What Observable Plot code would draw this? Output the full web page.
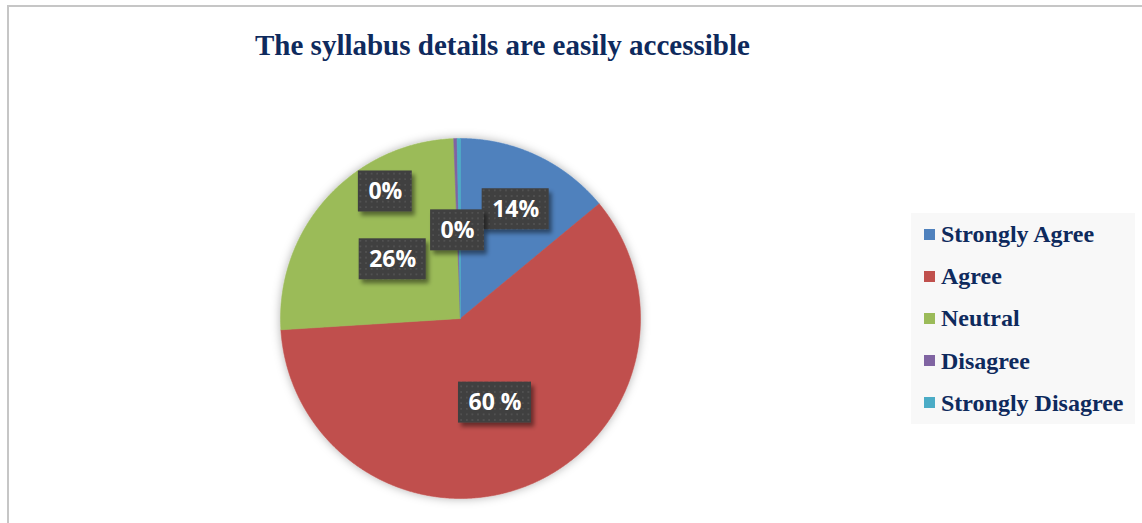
<!DOCTYPE html>
<html>
<head>
<meta charset="utf-8">
<script src="https://cdn.jsdelivr.net/npm/d3@7"></script>
<script src="https://cdn.jsdelivr.net/npm/@observablehq/plot@0.6"></script>
<style>
  html, body { margin: 0; padding: 0; background: #fff; }
  #page { position: relative; width: 1142px; height: 523px; overflow: hidden; background: #fff; }
  #frame { position: absolute; left: 7px; top: 5px; width: 1200px; height: 600px;
           border-left: 2px solid #c6c6c6; border-top: 2px solid #c6c6c6; }
  #title { position: absolute; left: 255px; top: 31px; text-align: left; white-space: nowrap;
           font-family: "Liberation Serif", "Times New Roman", serif; font-weight: bold; font-size: 29px;
           line-height: 29px; color: #0e2a5d; }
  #pie { position: absolute; left: 239.5px; top: 98px; }
  #legend { position: absolute; left: 911px; top: 213px; width: 224px; height: 211px; background: #f8f8f8; }
  .row { display: flex; align-items: center; height: 42.2px; padding-left: 13px; }
  .sw { width: 11px; height: 11px; margin-right: 6px; flex: none; }
  .lt { font-family: "Liberation Serif", "Times New Roman", serif; font-weight: bold; font-size: 24px;
        line-height: 24px; color: #0e2a5d; white-space: nowrap; }
</style>
</head>
<body>
<div id="page">
  <div id="frame"></div>
  <div id="title"></div>
  <div id="pie"></div>
  <div id="legend"></div>
</div>
<script>
// ---- data ----
const categories = ["Strongly Agree", "Agree", "Neutral", "Disagree", "Strongly Disagree"];
const values = [14, 60, 25.4, 0.3, 0.3];
const labels = ["14%", "60 %", "26%", "0%", "0%"];
const colors = ["#4f81bd", "#c0504d", "#9bbb59", "#8064a2", "#4bacc6"];
// label placement (fraction of radius, angular shift in degrees from slice middle)
const labelRadius = [0.68, 0.505, 0.5, 0.82, 0.49];
const labelShift = [1.6, -0.7, -1, -29, -1.4];

const title = "The syllabus details are easily accessible";
document.getElementById("title").textContent = title;

// ---- geometry ----
const R = 180;            // pixel radius
const S = 440;            // svg size
const half = (S / 2) / R; // data half-extent
const total = d3.sum(values);
const rad = Math.PI / 180;

let acc = 0;
const slices = categories.map((c, i) => {
  const a0 = acc / total * 360;
  acc += values[i];
  const a1 = acc / total * 360;
  return {category: c, a0, a1, mid: (a0 + a1) / 2, label: labels[i], i};
});

const pts = [];
for (const s of slices) {
  pts.push({category: s.category, x: 0, y: 0});
  const n = Math.max(2, Math.ceil((s.a1 - s.a0) / 0.25));
  for (let k = 0; k <= n; k++) {
    const a = (s.a0 + (s.a1 - s.a0) * k / n) * rad;
    pts.push({category: s.category, x: Math.sin(a), y: Math.cos(a)});
  }
  pts.push({category: s.category, x: 0, y: 0});
}

const fs = 23;
const ctx = document.createElement("canvas").getContext("2d");
ctx.font = `bold ${fs}px 'Open Sans'`;
const boxH = 41;
const labelData = slices.map(s => {
  const a = (s.mid + labelShift[s.i]) * rad;
  const r = labelRadius[s.i];
  const cx = r * Math.sin(a), cy = r * Math.cos(a);
  const w = ctx.measureText(s.label).width + 20;
  return {label: s.label, cx, cy,
    x1: cx - w / 2 / R, x2: cx + w / 2 / R,
    y1: cy - boxH / 2 / R, y2: cy + boxH / 2 / R};
});

const chart = Plot.plot({
  width: S, height: S,
  margin: 0,
  x: {domain: [-half, half], axis: null},
  y: {domain: [-half, half], axis: null},
  color: {domain: categories, range: colors},
  marks: [
    Plot.line(pts, {x: "x", y: "y", z: "category", fill: "category", stroke: "category", strokeWidth: 0.6, curve: "linear"}),
    Plot.rect(labelData, {x1: "x1", x2: "x2", y1: "y1", y2: "y2", fill: "url(#dots)"}),
    Plot.text(labelData, {x: "cx", y: "cy", text: "label", fill: "white", fontSize: fs, fontWeight: "bold",
      fontFamily: "'Open Sans', sans-serif"})
  ]
});

// defs: dotted pattern + shadows
const defs = d3.select(chart).insert("defs", ":first-child");
const pat = defs.append("pattern").attr("id", "dots").attr("patternUnits", "userSpaceOnUse")
  .attr("width", 5.6).attr("height", 5.6);
pat.append("rect").attr("width", 5.6).attr("height", 5.6).attr("fill", "#3f3f3f");
pat.append("rect").attr("x", 2).attr("y", 2).attr("width", 1.6).attr("height", 1.6).attr("fill", "#575757");
const f1 = defs.append("filter").attr("id", "pieShadow").attr("x", "-20%").attr("y", "-20%").attr("width", "140%").attr("height", "140%");
f1.append("feDropShadow").attr("dx", 0).attr("dy", 0).attr("stdDeviation", 5).attr("flood-color", "#000").attr("flood-opacity", 0.3);
const f2 = defs.append("filter").attr("id", "boxShadow").attr("x", "-30%").attr("y", "-30%").attr("width", "160%").attr("height", "160%");
f2.append("feDropShadow").attr("dx", 3).attr("dy", 4).attr("stdDeviation", 2.2).attr("flood-color", "#000").attr("flood-opacity", 0.45);

d3.select(chart).select("g[aria-label='line']").attr("filter", "url(#pieShadow)");
d3.select(chart).selectAll("g[aria-label='rect'] rect").attr("filter", "url(#boxShadow)");

document.getElementById("pie").appendChild(chart);

// legend
const leg = d3.select("#legend");
categories.forEach((c, i) => {
  const row = leg.append("div").attr("class", "row");
  row.append("div").attr("class", "sw").style("background", colors[i]);
  row.append("div").attr("class", "lt").text(c);
});
</script>
</body>
</html>
